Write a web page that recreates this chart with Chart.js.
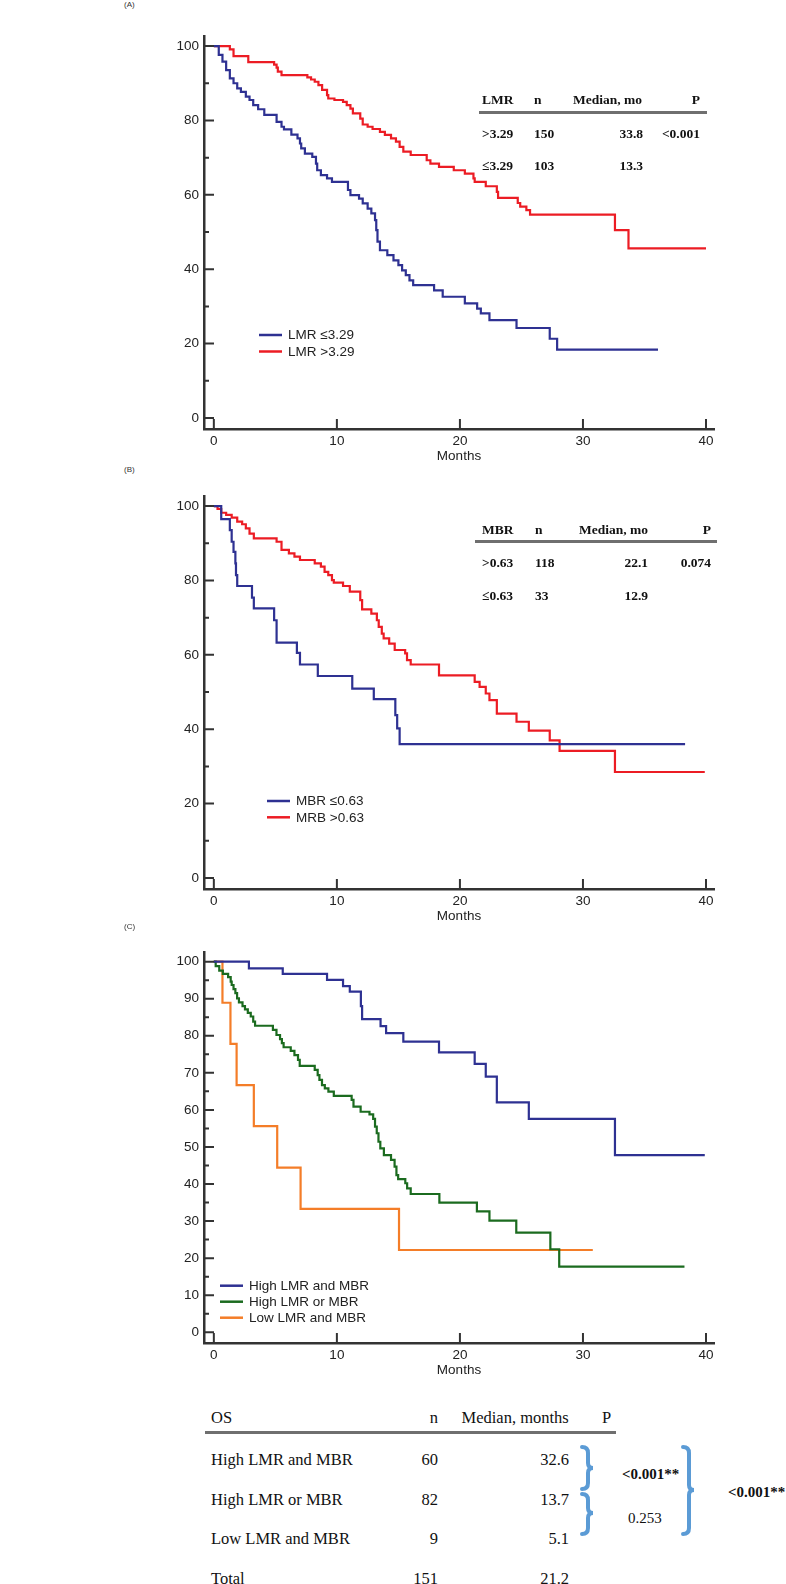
<!DOCTYPE html>
<html>
<head>
<meta charset="utf-8">
<script src="https://cdn.jsdelivr.net/npm/chart.js@4.4.1/dist/chart.umd.min.js"></script>
<style>
html,body{margin:0;padding:0;background:#fff;}
body{width:786px;height:1584px;position:relative;overflow:hidden;font-family:"Liberation Sans",Arial,sans-serif;}
canvas{position:absolute;left:0;}
.t{position:absolute;white-space:nowrap;line-height:1;transform:translateY(-50%);color:#111;}
.r{transform:translate(-100%,-50%);}
.ser{font-family:"Liberation Serif","Times New Roman",serif;}
.b{font-weight:bold;}
.rule{position:absolute;height:3px;background:#6f6f6f;}
.pl{position:absolute;font-size:8px;color:#333;line-height:1;transform:translateY(-50%);}
svg{position:absolute;left:0;top:0;}
</style>
</head>
<body>
<canvas id="chartA" width="786" height="445" style="top:20px"></canvas>
<canvas id="chartB" width="786" height="445" style="top:480px"></canvas>
<canvas id="chartC" width="786" height="443" style="top:936px"></canvas>

<div class="pl" style="left:124px;top:5px">(A)</div>
<div class="pl" style="left:124px;top:470px">(B)</div>
<div class="pl" style="left:124px;top:927px">(C)</div>

<div id="tables"></div>

<svg width="786" height="1584">
  <g fill="none" stroke="#5b9bd5" stroke-width="4" stroke-linecap="round">
    <path d="M582,1447 Q588,1447 588,1453 L588,1463 Q588,1468 593,1468 Q588,1468 588,1473 L588,1483 Q588,1489 582,1489"/>
    <path d="M582,1494 Q588,1494 588,1500 L588,1508 Q588,1513 593,1513 Q588,1513 588,1518 L588,1528 Q588,1534 582,1534"/>
    <path d="M683,1447 Q689,1447 689,1453 L689,1485 Q689,1490 694,1490 Q689,1490 689,1495 L689,1528 Q689,1534 683,1534"/>
  </g>
</svg>

<script>
// (A) LMR
const lmrLowMonths = [0, 0.4, 0.7, 1.0, 1.3, 1.6, 1.9, 2.2, 2.6, 2.9, 3.2, 3.6, 4.1, 5.1, 5.5, 5.7, 6.3, 6.8, 7.0, 7.1, 7.4, 8.0, 8.3, 8.4, 8.7, 9.2, 9.6, 10.9, 11.1, 11.8, 12.1, 12.5, 12.8, 13.1, 13.2, 13.3, 13.5, 14.1, 14.6, 15.0, 15.3, 15.6, 15.9, 16.2, 17.9, 18.6, 20.4, 21.4, 21.7, 22.4, 24.6, 27.3, 27.9, 36.1];
const lmrLowSurv = [100, 97.6, 95.8, 93.5, 91.3, 90.0, 88.6, 87.7, 86.4, 85.5, 84.1, 83.0, 81.5, 79.6, 78.3, 77.6, 76.2, 75.2, 73.8, 72.5, 71.1, 70.2, 68.4, 66.6, 65.3, 64.4, 63.5, 61.3, 59.9, 59.0, 57.7, 56.3, 55.0, 53.2, 50.5, 47.4, 45.1, 43.8, 42.4, 41.1, 39.7, 38.4, 37.0, 35.7, 34.3, 32.6, 30.8, 29.4, 28.1, 26.3, 24.2, 21.3, 18.4, 18.4];
const lmrHighMonths = [0, 1.3, 1.6, 2.8, 4.9, 5.1, 5.2, 5.5, 7.6, 7.9, 8.2, 8.5, 8.8, 9.2, 9.3, 9.8, 10.5, 10.8, 11.1, 11.3, 11.9, 12.1, 12.5, 12.9, 13.5, 13.9, 14.4, 14.8, 15.1, 15.4, 16.0, 17.3, 17.6, 18.3, 19.5, 20.4, 21.1, 21.2, 22.1, 23.0, 23.1, 24.7, 24.9, 25.4, 25.7, 32.6, 33.7, 40.0];
const lmrHighSurv = [100, 99.1, 97.3, 95.7, 95.0, 94.2, 93.1, 92.2, 91.6, 91.0, 90.4, 89.5, 88.2, 86.8, 85.9, 85.5, 85.0, 84.1, 83.2, 81.9, 80.5, 78.9, 78.3, 77.7, 76.9, 76.1, 75.2, 74.3, 72.9, 71.6, 70.7, 69.3, 68.4, 67.5, 66.6, 65.7, 64.4, 63.5, 62.3, 60.8, 59.2, 57.8, 56.8, 55.9, 54.7, 50.5, 45.6, 45.6];

// (B) MBR
const mbrLowMonths = [0, 0.6, 1.3, 1.45, 1.6, 1.75, 1.8, 1.9, 3.1, 3.25, 4.9, 5.1, 6.75, 7.0, 8.45, 11.25, 13.0, 14.75, 14.9, 15.1, 38.3];
const mbrLowSurv = [100, 96.5, 93.5, 90.4, 87.7, 84.6, 81.4, 78.5, 75.4, 72.5, 69.3, 63.3, 60.5, 57.4, 54.3, 50.9, 48.1, 43.8, 40.2, 36.0, 36.0];
const mbrHighMonths = [0, 0.3, 0.6, 1.0, 1.45, 1.9, 2.3, 2.6, 2.9, 3.25, 5.1, 5.5, 6.1, 6.55, 7.0, 8.2, 8.7, 9.0, 9.3, 9.6, 9.75, 10.5, 11.05, 11.9, 12.05, 12.8, 13.25, 13.4, 13.65, 13.8, 14.25, 14.7, 15.55, 15.7, 16.0, 18.3, 21.2, 21.6, 22.1, 22.4, 23.0, 24.6, 25.6, 27.3, 28.1, 32.6, 39.9];
const mbrHighSurv = [100, 99.2, 98.2, 97.6, 96.9, 95.8, 95.1, 94.0, 92.6, 91.3, 90.4, 88.2, 87.3, 86.4, 85.5, 84.6, 83.7, 82.3, 81.4, 80.1, 79.4, 78.5, 77.0, 74.7, 72.2, 71.1, 69.3, 67.5, 65.7, 64.4, 63.0, 61.3, 60.4, 58.6, 57.4, 54.5, 52.7, 51.4, 49.6, 47.8, 44.2, 42.0, 39.6, 37.0, 34.2, 28.5, 28.5];

// (C) combined
const bothHighMonths = [0, 2.85, 5.6, 9.2, 10.5, 11.05, 11.95, 12.05, 13.55, 14.0, 15.4, 18.3, 21.2, 22.1, 23.0, 25.6, 32.6, 39.9];
const bothHighSurv = [100, 98.2, 96.7, 95.1, 93.4, 91.9, 88.0, 84.5, 82.6, 80.7, 78.4, 75.5, 72.4, 69.0, 62.0, 57.6, 47.8, 47.8];
const eitherHighMonths = [0, 0.15, 0.44, 0.73, 1.16, 1.37, 1.45, 1.6, 1.75, 1.89, 2.04, 2.33, 2.53, 2.76, 3.0, 3.2, 3.35, 4.8, 5.09, 5.38, 5.53, 5.67, 6.25, 6.55, 6.84, 6.98, 8.2, 8.44, 8.58, 8.79, 9.02, 9.31, 9.75, 11.2, 11.35, 11.93, 12.65, 12.95, 13.1, 13.24, 13.38, 13.53, 13.82, 14.4, 14.69, 14.84, 14.98, 15.56, 15.71, 16.0, 18.33, 21.38, 22.4, 24.58, 27.35, 28.07, 38.25];
const eitherHighSurv = [100, 98.8, 97.6, 96.7, 95.8, 94.6, 93.7, 92.6, 91.5, 90.1, 89.0, 88.0, 87.1, 86.2, 85.2, 83.8, 82.7, 81.6, 80.2, 79.1, 78.0, 76.9, 75.9, 74.8, 73.5, 71.9, 70.8, 69.4, 68.1, 66.7, 65.8, 64.9, 63.8, 62.7, 60.9, 59.5, 58.8, 57.6, 55.5, 53.7, 51.4, 49.6, 47.8, 46.5, 44.7, 42.4, 41.3, 40.2, 38.8, 37.3, 35.0, 32.6, 30.1, 26.9, 22.4, 17.7, 17.7];
const bothLowMonths = [0, 0.7, 1.35, 1.85, 3.25, 5.15, 7.05, 15.05, 30.8];
const bothLowSurv = [100, 88.9, 77.8, 66.7, 55.6, 44.4, 33.3, 22.2, 22.2];

const monthTicks = [0, 10, 20, 30, 40];
const survTicksAB = [0, 20, 40, 60, 80, 100];
const survMinorAB = [10, 30, 50, 70, 90];
const survTicksC = [0, 10, 20, 30, 40, 50, 60, 70, 80, 90, 100];
const survMinorC = [5, 15, 25, 35, 45, 55, 65, 75, 85, 95];

// side tables
const lmrHead = ['LMR', 'n', 'Median, mo', 'P'];
const lmrRows = [['>3.29', '150', '33.8', '<0.001'], ['\u22643.29', '103', '13.3', '']];
const mbrHead = ['MBR', 'n', 'Median, mo', 'P'];
const mbrRows = [['>0.63', '118', '22.1', '0.074'], ['\u22640.63', '33', '12.9', '']];
const osHead = ['OS', 'n', 'Median, months', 'P'];
const osRows = [['High LMR and MBR', '60', '32.6'], ['High LMR or MBR', '82', '13.7'], ['Low LMR and MBR', '9', '5.1'], ['Total', '151', '21.2']];
const pLabels = [['<0.001**', true], ['0.253', false], ['<0.001**', true]];

const BLUE = '#2e3192', RED = '#ec1c24', GREEN = '#1b6b1f', ORANGE = '#f47d28';
const AXIS = '#333';
const tickFont = {family: '"Liberation Sans", Arial, sans-serif', size: 13.5};

function pts(xs, ys) {
  return xs.map((x, i) => ({x: x, y: ys[i]}));
}

const innerTicks = {
  id: 'innerTicks',
  afterDraw(chart, args, o) {
    const ctx = chart.ctx, a = chart.chartArea, x = chart.scales.x, y = chart.scales.y;
    ctx.save();
    ctx.strokeStyle = AXIS;
    ctx.lineWidth = 2;
    ctx.beginPath();
    o.yMajor.forEach(v => { const p = y.getPixelForValue(v); ctx.moveTo(a.left, p); ctx.lineTo(a.left + 10, p); });
    o.yMinor.forEach(v => { const p = y.getPixelForValue(v); ctx.moveTo(a.left, p); ctx.lineTo(a.left + 5, p); });
    o.xMajor.forEach(v => { const p = x.getPixelForValue(v); ctx.moveTo(p, a.bottom); ctx.lineTo(p, a.bottom - 10); });
    ctx.stroke();
    ctx.restore();
  }
};

const insideLegend = {
  id: 'insideLegend',
  afterDraw(chart, args, o) {
    const ctx = chart.ctx;
    ctx.save();
    ctx.font = '13.5px "Liberation Sans", Arial, sans-serif';
    ctx.textBaseline = 'middle';
    chart.data.datasets.forEach((ds, i) => {
      const yy = o.y + i * o.gap;
      ctx.strokeStyle = ds.borderColor;
      ctx.lineWidth = 2.5;
      ctx.beginPath();
      ctx.moveTo(o.x, yy);
      ctx.lineTo(o.x + 23, yy);
      ctx.stroke();
      ctx.fillStyle = '#222';
      ctx.fillText(ds.label, o.x + 29, yy + 0.5);
    });
    ctx.restore();
  }
};

function kmChart(id, datasets, yMajor, yMinor, yMin, yMax, legend) {
  return new Chart(document.getElementById(id), {
    type: 'line',
    data: {
      datasets: datasets.map(d => ({
        label: d.label,
        data: d.data,
        borderColor: d.color,
        backgroundColor: d.color,
        borderWidth: 2.2,
        stepped: 'before',
        pointRadius: 0,
        fill: false
      }))
    },
    options: {
      responsive: false,
      animation: false,
      layout: {padding: {left: 150, right: 72, top: 16, bottom: 0}},
      plugins: {
        legend: {display: false},
        tooltip: {enabled: false},
        innerTicks: {yMajor: yMajor, yMinor: yMinor, xMajor: monthTicks},
        insideLegend: legend
      },
      scales: {
        x: {
          type: 'linear',
          min: -0.8,
          max: 40.65,
          afterBuildTicks: s => { s.ticks = monthTicks.map(v => ({value: v})); },
          afterFit: s => { s.height = 36; },
          grid: {display: false, drawTicks: false},
          border: {display: true, color: AXIS, width: 2.5},
          ticks: {font: tickFont, color: '#222', padding: 4, maxRotation: 0, autoSkip: false},
          title: {display: true, text: 'Months', font: tickFont, color: '#222', padding: {top: 0, bottom: 1}}
        },
        y: {
          type: 'linear',
          min: yMin,
          max: yMax,
          afterBuildTicks: s => { s.ticks = yMajor.map(v => ({value: v})); },
          afterFit: s => { s.width = 54; },
          grid: {display: false, drawTicks: false},
          border: {display: true, color: AXIS, width: 2.5},
          ticks: {font: tickFont, color: '#222', padding: 5, autoSkip: false}
        }
      }
    },
    plugins: [innerTicks, insideLegend]
  });
}

kmChart('chartA', [
  {label: 'LMR \u22643.29', data: pts(lmrLowMonths, lmrLowSurv), color: BLUE},
  {label: 'LMR >3.29', data: pts(lmrHighMonths, lmrHighSurv), color: RED}
], survTicksAB, survMinorAB, -2.96, 102.7, {x: 259, y: 315, gap: 16.5});

kmChart('chartB', [
  {label: 'MBR \u22640.63', data: pts(mbrLowMonths, mbrLowSurv), color: BLUE},
  {label: 'MRB >0.63', data: pts(mbrHighMonths, mbrHighSurv), color: RED}
], survTicksAB, survMinorAB, -2.96, 102.7, {x: 267, y: 321, gap: 16.3});

kmChart('chartC', [
  {label: 'High LMR and MBR', data: pts(bothHighMonths, bothHighSurv), color: BLUE},
  {label: 'High LMR or MBR', data: pts(eitherHighMonths, eitherHighSurv), color: GREEN},
  {label: 'Low LMR and MBR', data: pts(bothLowMonths, bothLowSurv), color: ORANGE}
], survTicksC, survMinorC, -2.9, 102.6, {x: 220, y: 349.7, gap: 16});

// text tables
const host = document.getElementById('tables');
function txt(s, left, top, cls, size, right) {
  const d = document.createElement('div');
  d.className = 't ser ' + (cls || '') + (right ? ' r' : '');
  d.style.left = left + 'px';
  d.style.top = top + 'px';
  d.style.fontSize = size + 'px';
  d.textContent = s;
  host.appendChild(d);
}
function rule(left, top, width) {
  const d = document.createElement('div');
  d.className = 'rule';
  d.style.left = left + 'px';
  d.style.top = top + 'px';
  d.style.width = width + 'px';
  host.appendChild(d);
}

// inset table A
txt(lmrHead[0], 482, 100, 'b', 13.5);
txt(lmrHead[1], 534, 100, 'b', 13.5);
txt(lmrHead[2], 573, 100, 'b', 13.5);
txt(lmrHead[3], 700, 100, 'b', 13.5, true);
rule(479, 111, 228);
lmrRows.forEach((r, i) => {
  const yy = 133.5 + i * 32.5;
  txt(r[0], 482, yy, 'b', 13.5);
  txt(r[1], 534, yy, 'b', 13.5);
  txt(r[2], 643, yy, 'b', 13.5, true);
  if (r[3]) txt(r[3], 700, yy, 'b', 13.5, true);
});

// inset table B
txt(mbrHead[0], 482, 529.5, 'b', 13.5);
txt(mbrHead[1], 535, 529.5, 'b', 13.5);
txt(mbrHead[2], 579, 529.5, 'b', 13.5);
txt(mbrHead[3], 711, 529.5, 'b', 13.5, true);
rule(475, 540, 242);
mbrRows.forEach((r, i) => {
  const yy = 562.5 + i * 33.5;
  txt(r[0], 482, yy, 'b', 13.5);
  txt(r[1], 535, yy, 'b', 13.5);
  txt(r[2], 648, yy, 'b', 13.5, true);
  if (r[3]) txt(r[3], 711, yy, 'b', 13.5, true);
});

// OS table
txt(osHead[0], 211, 1418, '', 16.5);
txt(osHead[1], 438, 1418, '', 16.5, true);
txt(osHead[2], 461.5, 1418, '', 16.5);
txt(osHead[3], 602, 1418, '', 16.5);
rule(205, 1431, 411);
osRows.forEach((r, i) => {
  const yy = 1460 + i * 39.7;
  txt(r[0], 211, yy, '', 16.5);
  txt(r[1], 438, yy, '', 16.5, true);
  txt(r[2], 569, yy, '', 16.5, true);
});
txt(pLabels[0][0], 622, 1474, 'b', 15);
txt(pLabels[1][0], 628, 1518, '', 15);
txt(pLabels[2][0], 728, 1492, 'b', 15);
</script>
</body>
</html>
